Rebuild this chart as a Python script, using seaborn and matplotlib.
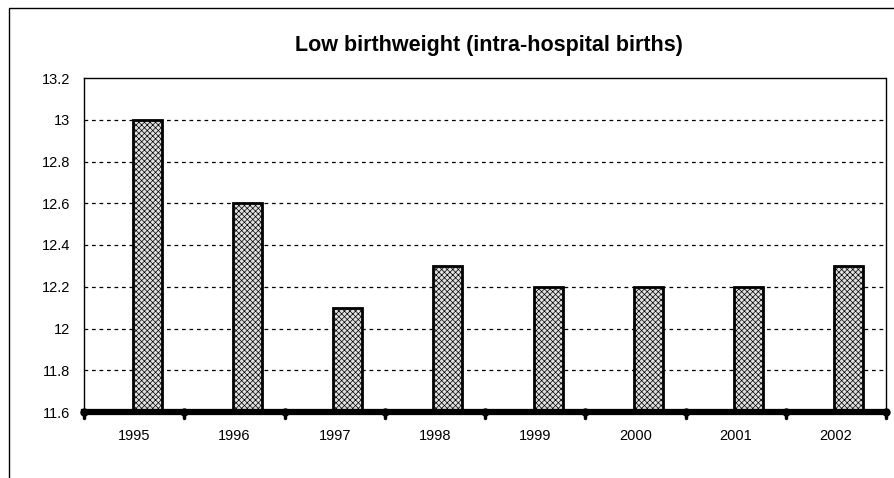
import matplotlib
matplotlib.use("Agg")
import matplotlib.pyplot as plt
import seaborn as sns
import pandas as pd
from matplotlib.patches import Rectangle

years = ["1995", "1996", "1997", "1998", "1999", "2000", "2001", "2002"]
values = [13.0, 12.6, 12.1, 12.3, 12.2, 12.2, 12.2, 12.3]
yticks = [11.6, 11.8, 12.0, 12.2, 12.4, 12.6, 12.8, 13.0, 13.2]
ytick_labels = ["11.6", "11.8", "12", "12.2", "12.4", "12.6", "12.8", "13", "13.2"]
title = "Low birthweight (intra-hospital births)"

sns.set_theme(style="white")
plt.rcParams["font.family"] = ["Liberation Sans", "DejaVu Sans"]
plt.rcParams["hatch.color"] = "#6a6a6a"
plt.rcParams["hatch.linewidth"] = 0.5
plt.rcParams["text.color"] = "black"
plt.rcParams["xtick.color"] = "black"
plt.rcParams["ytick.color"] = "black"

df = pd.DataFrame({"year": years, "value": values})
fig = plt.figure(figsize=(8.95, 4.78), dpi=100)
ax = fig.add_axes([84 / 895, 1 - 412 / 478, (886 - 84) / 895, (412 - 78) / 478])

sns.barplot(data=df, x="year", y="value", ax=ax, color="#e0e0e0", width=0.29,
            edgecolor="black", linewidth=2.0, saturation=1)
for p in ax.patches:
    p.set_hatch("xxxxxx")
    p.set_x(p.get_x() + 0.13)
    p.set_zorder(3)

ax.set_ylim(11.6, 13.2)
ax.set_xlim(-0.5, len(years) - 0.5)
ax.set_yticks(yticks)
ax.set_yticklabels(ytick_labels, fontsize=10.5)
ax.set_xticks(range(len(years)))
ax.set_xticklabels(years, fontsize=10.5)
ax.tick_params(axis="x", length=0, pad=12)
ax.tick_params(axis="y", length=4, width=1, color="black", direction="out", pad=6)
ax.set_xlabel("")
ax.set_ylabel("")

for y in yticks[1:-1]:
    ax.axhline(y, color="black", linestyle=(0, (3, 3)), linewidth=0.9, zorder=1)

for s in ["left", "top", "right"]:
    ax.spines[s].set_visible(True)
    ax.spines[s].set_linestyle((0, (1, 1)))
    ax.spines[s].set_linewidth(1.0)
    ax.spines[s].set_color("black")
ax.spines["bottom"].set_linewidth(4.5)
ax.spines["bottom"].set_color("black")
ax.spines["bottom"].set_zorder(5)

# category boundary tick marks
for i in range(len(years) + 1):
    ax.plot([i - 0.5], [11.6], marker="o", markersize=5, color="black",
            clip_on=False, zorder=6)
    ax.plot([i - 0.5, i - 0.5], [11.6, 11.57], color="black", linewidth=2.5,
            clip_on=False, zorder=6)

fig.text(489 / 895, 1 - 45 / 478, title, ha="center", va="center",
         fontsize=15.5, fontweight="bold", color="black")

fig.patches.append(Rectangle((9 / 895, -0.1), 1.2, 1 - 8 / 478 + 0.1,
                             transform=fig.transFigure, fill=False,
                             edgecolor="black", linewidth=1.0))

fig.savefig("out.png", dpi=100)
